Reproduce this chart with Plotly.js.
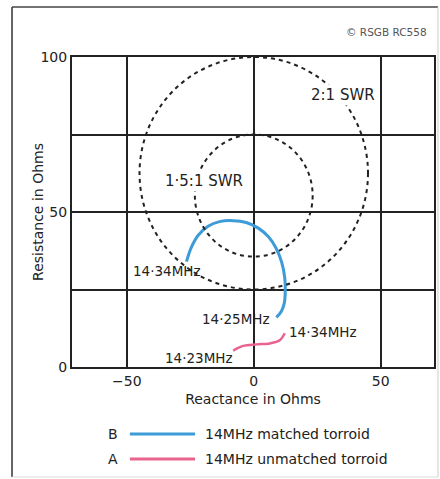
<!DOCTYPE html>
<html><head><meta charset="utf-8">
<script src="https://cdn.plot.ly/plotly-3.0.1.min.js"></script>
<style>html,body{margin:0;padding:0;background:#fff}#chart{width:440px;height:479px}</style>
</head><body><div id="chart"></div>
<script>
// Curve B: 14MHz matched torroid (reactance X, resistance R), 14.34 -> 14.25 MHz
const matchedX = [-26.5, -24.6, -21.8, -18.0, -13.5, -8.1, -3.0, 1.8, 5.8, 8.8, 11.0, 12.2, 12.4, 12.0, 10.9, 8.9];
const matchedR = [34.0, 38.6, 42.6, 45.4, 46.9, 47.2, 46.6, 44.8, 42.0, 38.3, 33.8, 28.8, 24.0, 20.5, 18.0, 16.0];
// Curve A: 14MHz unmatched torroid, 14.23 -> 14.34 MHz
const unmatchedX = [-8.1, -4.2, 1.0, 6.3, 10.2, 12.2];
const unmatchedR = [5.3, 6.8, 7.3, 7.6, 8.6, 10.9];
// SWR circles (centre and half-extent along each axis)
const swrNames = ["2:1 SWR", "1·5:1 SWR"];
const swrCentreX = [0, 0];
const swrCentreR = [62.5, 55.3];
const swrHalfX = [45, 23.2];
const swrHalfR = [37.5, 19.7];
const swrLabelX = [35, -19.5];
const swrLabelR = [87.7, 60];
// Frequency labels
const freqLabels = ["14·34MHz", "14·25MHz", "14·34MHz", "14·23MHz"];
const freqLabelX = [-34, -7, 27.2, -21.5];
const freqLabelR = [31, 15.5, 11.3, 3];
// Axis ticks
const xTicks = [-50, 0, 50];
const yTicks = [0, 25, 50, 75, 100];
const yTickText = ["0", "", "50", "", "100"];
// Legend
const seriesKeys = ["B", "A"];
const seriesNames = ["14MHz matched torroid", "14MHz unmatched torroid"];
const seriesColors = ["#3d9bd8", "#e8648e"];

const FONT = "DejaVu Sans, sans-serif";
const TXT = "#222";

const traces = [
  {x: matchedX, y: matchedR, mode: "lines", line: {color: seriesColors[0], width: 3, shape: "spline"}, hoverinfo: "skip"},
  {x: unmatchedX, y: unmatchedR, mode: "lines", line: {color: seriesColors[1], width: 2.5, shape: "spline"}, hoverinfo: "skip"}
];

const shapes = [];
for (let i = 0; i < swrNames.length; i++) {
  shapes.push({type: "circle", xref: "x", yref: "y",
    x0: swrCentreX[i] - swrHalfX[i], x1: swrCentreX[i] + swrHalfX[i],
    y0: swrCentreR[i] - swrHalfR[i], y1: swrCentreR[i] + swrHalfR[i],
    line: {color: "#222", width: 2, dash: "4px,4px"}, layer: "above"});
}
// outer frame (dark left/top, faint right/bottom)
const fx0 = -0.1657, fx1 = 1.011, fyT = 1.1613, fyB = -0.3548;
shapes.push({type: "line", xref: "paper", yref: "paper", x0: fx0, x1: fx0, y0: fyB, y1: fyT, line: {color: "#333", width: 1.5}});
shapes.push({type: "line", xref: "paper", yref: "paper", x0: fx0, x1: fx1, y0: fyT, y1: fyT, line: {color: "#444", width: 1.5}});
shapes.push({type: "line", xref: "paper", yref: "paper", x0: fx1, x1: fx1, y0: fyB, y1: fyT, line: {color: "#ccc", width: 1}});
shapes.push({type: "line", xref: "paper", yref: "paper", x0: fx0, x1: fx1, y0: fyB, y1: fyB, line: {color: "#ddd", width: 1}});
// legend sample lines
const legY = [-0.216, -0.297];
for (let i = 0; i < seriesKeys.length; i++) {
  shapes.push({type: "line", xref: "paper", yref: "paper", x0: 0.160, x1: 0.340, y0: legY[i], y1: legY[i],
    line: {color: seriesColors[i], width: 3}});
}

const annotations = [];
for (let i = 0; i < swrNames.length; i++) {
  annotations.push({x: swrLabelX[i], y: swrLabelR[i], xref: "x", yref: "y", text: swrNames[i], showarrow: false,
    font: {family: FONT, size: 15, color: TXT}, bgcolor: "#fff"});
}
for (let i = 0; i < freqLabels.length; i++) {
  annotations.push({x: freqLabelX[i], y: freqLabelR[i], xref: "x", yref: "y", text: freqLabels[i], showarrow: false,
    font: {family: FONT, size: 13.5, color: TXT}});
}
for (let i = 0; i < seriesKeys.length; i++) {
  annotations.push({x: 0.1326, y: legY[i], xref: "paper", yref: "paper", text: seriesKeys[i], showarrow: false,
    xanchor: "right", yanchor: "middle", font: {family: FONT, size: 14, color: TXT}});
  annotations.push({x: 0.362, y: legY[i], xref: "paper", yref: "paper", text: seriesNames[i], showarrow: false,
    xanchor: "left", yanchor: "middle", font: {family: FONT, size: 14, color: TXT}});
}
annotations.push({x: 0.985, y: 1.081, xref: "paper", yref: "paper", text: "© RSGB RC558", showarrow: false,
  xanchor: "right", yanchor: "middle", font: {family: FONT, size: 10.5, color: "#555"}});
annotations.push({x: -0.094, y: 0.5, xref: "paper", yref: "paper", text: "Resistance in Ohms", showarrow: false,
  textangle: -90, xanchor: "center", yanchor: "middle", font: {family: FONT, size: 14, color: TXT}});

const layout = {
  width: 440, height: 479,
  margin: {l: 72, r: 6, t: 57, b: 112},
  paper_bgcolor: "#fff", plot_bgcolor: "#fff",
  showlegend: false,
  font: {family: FONT, color: TXT, size: 14},
  xaxis: {range: [-71.6, 71], tickvals: xTicks, ticktext: xTicks.map(v => v < 0 ? "−" + Math.abs(v) : String(v)),
    showgrid: true, gridcolor: "#222", gridwidth: 2, zeroline: false,
    showline: true, linecolor: "#222", linewidth: 2, mirror: true, ticks: "",
    title: {text: "Reactance in Ohms", font: {family: FONT, size: 14, color: TXT}, standoff: 6},
    tickfont: {family: FONT, size: 14, color: TXT}, fixedrange: true},
  yaxis: {range: [0, 100], tickvals: yTicks, ticktext: yTickText,
    showgrid: true, gridcolor: "#222", gridwidth: 2, zeroline: false,
    showline: true, linecolor: "#222", linewidth: 2, mirror: true, ticks: "",
    tickfont: {family: FONT, size: 14, color: TXT}, fixedrange: true},
  shapes: shapes,
  annotations: annotations
};

Plotly.newPlot("chart", traces, layout, {staticPlot: true});
</script></body></html>
